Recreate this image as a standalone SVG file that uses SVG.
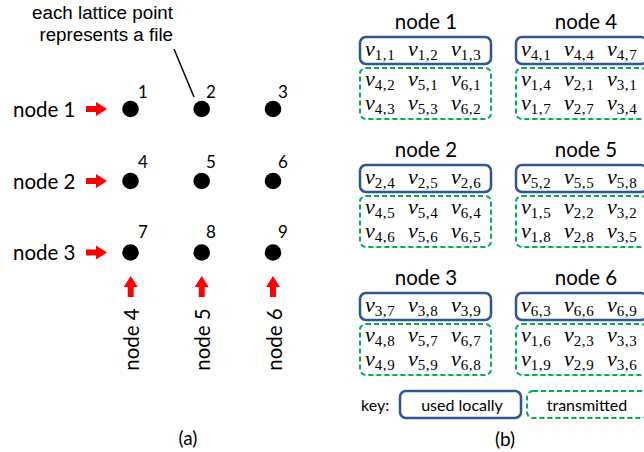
<svg xmlns="http://www.w3.org/2000/svg" width="644" height="452" viewBox="0 0 644 452">
<style>
.cal{font-family:Lato,"Open Sans","Liberation Sans",sans-serif;fill:#000}
.lbl{font-size:20.5px}
.num{font-size:17px}
.ttl{font-size:20.5px;text-anchor:middle}
.key{font-size:16px}
.cap{font-size:19px;text-anchor:middle}
.ar{font-family:"Liberation Sans",Arial,sans-serif;font-size:18.8px;text-anchor:end}
.v{font-family:"Liberation Serif","Times New Roman",serif;font-style:italic;font-size:22px}
.s{font-style:normal;font-size:15px;letter-spacing:0.6px}
.dot{fill:#000}
.arr{fill:#FF0000}
.loc{fill:none;stroke:#2F5597;stroke-width:2.5}
.tx{fill:none;stroke:#00B050;stroke-width:2;stroke-dasharray:5 3}
</style>
<defs>
<path id="ah" d="M0,-3 H10 V-7 L21,0 L10,7 V3 H0 Z"/>
</defs>

<g id="lattice">
<circle class="dot" cx="130.5" cy="109" r="8.3"/>
<circle class="dot" cx="201.7" cy="109" r="8.3"/>
<circle class="dot" cx="273" cy="109" r="8.3"/>
<circle class="dot" cx="130.5" cy="181" r="8.3"/>
<circle class="dot" cx="201.7" cy="181" r="8.3"/>
<circle class="dot" cx="273" cy="181" r="8.3"/>
<circle class="dot" cx="130.5" cy="252.5" r="8.3"/>
<circle class="dot" cx="201.7" cy="252.5" r="8.3"/>
<circle class="dot" cx="273" cy="252.5" r="8.3"/>
<text class="cal num" x="138" y="98">1</text>
<text class="cal num" x="206" y="98">2</text>
<text class="cal num" x="278" y="98">3</text>
<text class="cal num" x="138" y="168">4</text>
<text class="cal num" x="206" y="168">5</text>
<text class="cal num" x="278" y="168">6</text>
<text class="cal num" x="138" y="238">7</text>
<text class="cal num" x="206" y="238">8</text>
<text class="cal num" x="278" y="238">9</text>
</g>

<g id="node-labels-a">
<text class="cal lbl" x="13" y="117">node 1</text>
<text class="cal lbl" x="13" y="189">node 2</text>
<text class="cal lbl" x="13" y="260">node 3</text>
<text class="cal lbl" text-anchor="middle" transform="translate(139,339.5) rotate(-90)">node 4</text>
<text class="cal lbl" text-anchor="middle" transform="translate(210,339.5) rotate(-90)">node 5</text>
<text class="cal lbl" text-anchor="middle" transform="translate(281.5,339.5) rotate(-90)">node 6</text>
</g>

<g id="annotation">
<text class="ar" x="173" y="19">each lattice point</text>
<text class="ar" x="173" y="41">represents a file</text>
</g>

<g id="connectors">
<line x1="174" y1="49" x2="194" y2="97" stroke="#000" stroke-width="1.5"/>
<use href="#ah" class="arr" transform="translate(86,109)"/>
<use href="#ah" class="arr" transform="translate(86,181)"/>
<use href="#ah" class="arr" transform="translate(86,252.5)"/>
<use href="#ah" class="arr" transform="translate(130.7,297) rotate(-90)"/>
<use href="#ah" class="arr" transform="translate(201.7,297) rotate(-90)"/>
<use href="#ah" class="arr" transform="translate(273,297) rotate(-90)"/>
</g>

<text class="cal cap" x="188" y="445">(a)</text>

<g id="node1">
<text class="cal ttl" x="426" y="29">node 1</text>
<rect class="loc" x="360" y="37" width="131" height="27" rx="6"/>
<rect class="tx" x="360" y="68" width="131" height="51" rx="6"/>
<text class="v" x="365" y="56">v<tspan class="s" dy="4">1,1</tspan></text>
<text class="v" x="408" y="56">v<tspan class="s" dy="4">1,2</tspan></text>
<text class="v" x="451" y="56">v<tspan class="s" dy="4">1,3</tspan></text>
<text class="v" x="365" y="86">v<tspan class="s" dy="4">4,2</tspan></text>
<text class="v" x="408" y="86">v<tspan class="s" dy="4">5,1</tspan></text>
<text class="v" x="451" y="86">v<tspan class="s" dy="4">6,1</tspan></text>
<text class="v" x="365" y="110">v<tspan class="s" dy="4">4,3</tspan></text>
<text class="v" x="408" y="110">v<tspan class="s" dy="4">5,3</tspan></text>
<text class="v" x="451" y="110">v<tspan class="s" dy="4">6,2</tspan></text>
</g>

<g id="node4">
<text class="cal ttl" x="586" y="29">node 4</text>
<rect class="loc" x="516" y="37" width="131" height="27" rx="6"/>
<rect class="tx" x="516" y="68" width="131" height="51" rx="6"/>
<text class="v" x="521" y="56">v<tspan class="s" dy="4">4,1</tspan></text>
<text class="v" x="564" y="56">v<tspan class="s" dy="4">4,4</tspan></text>
<text class="v" x="607" y="56">v<tspan class="s" dy="4">4,7</tspan></text>
<text class="v" x="521" y="86">v<tspan class="s" dy="4">1,4</tspan></text>
<text class="v" x="564" y="86">v<tspan class="s" dy="4">2,1</tspan></text>
<text class="v" x="607" y="86">v<tspan class="s" dy="4">3,1</tspan></text>
<text class="v" x="521" y="110">v<tspan class="s" dy="4">1,7</tspan></text>
<text class="v" x="564" y="110">v<tspan class="s" dy="4">2,7</tspan></text>
<text class="v" x="607" y="110">v<tspan class="s" dy="4">3,4</tspan></text>
</g>

<g id="node2">
<text class="cal ttl" x="426" y="157">node 2</text>
<rect class="loc" x="360" y="165" width="131" height="27" rx="6"/>
<rect class="tx" x="360" y="196" width="131" height="51" rx="6"/>
<text class="v" x="365" y="184">v<tspan class="s" dy="4">2,4</tspan></text>
<text class="v" x="408" y="184">v<tspan class="s" dy="4">2,5</tspan></text>
<text class="v" x="451" y="184">v<tspan class="s" dy="4">2,6</tspan></text>
<text class="v" x="365" y="214">v<tspan class="s" dy="4">4,5</tspan></text>
<text class="v" x="408" y="214">v<tspan class="s" dy="4">5,4</tspan></text>
<text class="v" x="451" y="214">v<tspan class="s" dy="4">6,4</tspan></text>
<text class="v" x="365" y="238">v<tspan class="s" dy="4">4,6</tspan></text>
<text class="v" x="408" y="238">v<tspan class="s" dy="4">5,6</tspan></text>
<text class="v" x="451" y="238">v<tspan class="s" dy="4">6,5</tspan></text>
</g>

<g id="node5">
<text class="cal ttl" x="586" y="157">node 5</text>
<rect class="loc" x="516" y="165" width="131" height="27" rx="6"/>
<rect class="tx" x="516" y="196" width="131" height="51" rx="6"/>
<text class="v" x="521" y="184">v<tspan class="s" dy="4">5,2</tspan></text>
<text class="v" x="564" y="184">v<tspan class="s" dy="4">5,5</tspan></text>
<text class="v" x="607" y="184">v<tspan class="s" dy="4">5,8</tspan></text>
<text class="v" x="521" y="214">v<tspan class="s" dy="4">1,5</tspan></text>
<text class="v" x="564" y="214">v<tspan class="s" dy="4">2,2</tspan></text>
<text class="v" x="607" y="214">v<tspan class="s" dy="4">3,2</tspan></text>
<text class="v" x="521" y="238">v<tspan class="s" dy="4">1,8</tspan></text>
<text class="v" x="564" y="238">v<tspan class="s" dy="4">2,8</tspan></text>
<text class="v" x="607" y="238">v<tspan class="s" dy="4">3,5</tspan></text>
</g>

<g id="node3">
<text class="cal ttl" x="426" y="285">node 3</text>
<rect class="loc" x="360" y="293" width="131" height="27" rx="6"/>
<rect class="tx" x="360" y="324" width="131" height="51" rx="6"/>
<text class="v" x="365" y="312">v<tspan class="s" dy="4">3,7</tspan></text>
<text class="v" x="408" y="312">v<tspan class="s" dy="4">3,8</tspan></text>
<text class="v" x="451" y="312">v<tspan class="s" dy="4">3,9</tspan></text>
<text class="v" x="365" y="342">v<tspan class="s" dy="4">4,8</tspan></text>
<text class="v" x="408" y="342">v<tspan class="s" dy="4">5,7</tspan></text>
<text class="v" x="451" y="342">v<tspan class="s" dy="4">6,7</tspan></text>
<text class="v" x="365" y="366">v<tspan class="s" dy="4">4,9</tspan></text>
<text class="v" x="408" y="366">v<tspan class="s" dy="4">5,9</tspan></text>
<text class="v" x="451" y="366">v<tspan class="s" dy="4">6,8</tspan></text>
</g>

<g id="node6">
<text class="cal ttl" x="586" y="285">node 6</text>
<rect class="loc" x="516" y="293" width="131" height="27" rx="6"/>
<rect class="tx" x="516" y="324" width="131" height="51" rx="6"/>
<text class="v" x="521" y="312">v<tspan class="s" dy="4">6,3</tspan></text>
<text class="v" x="564" y="312">v<tspan class="s" dy="4">6,6</tspan></text>
<text class="v" x="607" y="312">v<tspan class="s" dy="4">6,9</tspan></text>
<text class="v" x="521" y="342">v<tspan class="s" dy="4">1,6</tspan></text>
<text class="v" x="564" y="342">v<tspan class="s" dy="4">2,3</tspan></text>
<text class="v" x="607" y="342">v<tspan class="s" dy="4">3,3</tspan></text>
<text class="v" x="521" y="366">v<tspan class="s" dy="4">1,9</tspan></text>
<text class="v" x="564" y="366">v<tspan class="s" dy="4">2,9</tspan></text>
<text class="v" x="607" y="366">v<tspan class="s" dy="4">3,6</tspan></text>
</g>

<g id="key">
<text class="cal key" x="361" y="411">key:</text>
<rect class="loc" x="400" y="391" width="121" height="27" rx="6"/>
<text class="cal key" x="462" y="411" text-anchor="middle">used locally</text>
<rect class="tx" x="527" y="391" width="121" height="27" rx="6"/>
<text class="cal key" x="587" y="411" text-anchor="middle">transmitted</text>
</g>

<text class="cal cap" x="505" y="446">(b)</text>
</svg>
